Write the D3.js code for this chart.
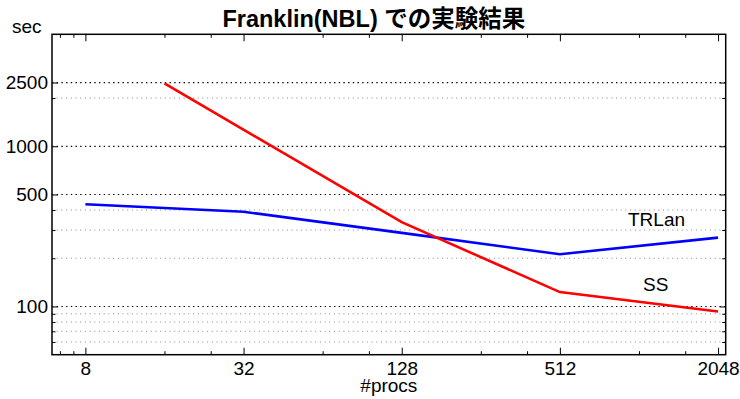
<!DOCTYPE html>
<html>
<head>
<meta charset="utf-8">
<script src="https://cdn.jsdelivr.net/npm/d3@7"></script>
<style>
body { margin: 0; background: #fff; }
text { font-family: "Liberation Sans", Arial, Helvetica, sans-serif; }
</style>
</head>
<body>
<script>
const WIDTH=740;
const HEIGHT=399;
const LEFT=52, RIGHT=725.7, TOP=34.3, BOTTOM=354.7;
const FONT=19;

// data
const trlanProcs = [8, 32, 128, 512, 2048];
const trlanSec = [435, 390, 288, 212, 269];
const ssProcs = [16, 128, 512, 2048];
const ssSec = [2470, 336, 123, 93];

const xTicks = [8, 32, 128, 512, 2048];
const xMinorTicks = [6.4, 7.2, 16, 24, 64, 96, 256, 384, 1024, 1536];
const yTicks = [100, 500, 1000, 2500];
const yMinorTicks = [60, 70, 80, 90, 200, 300, 400, 2000];

const svg = d3.select('body')
    .append('svg')
    .attr('width', WIDTH)
    .attr('height', HEIGHT);

const x = d3.scaleLog().base(2)
    .domain([5.97, 2190])
    .range([LEFT, RIGHT]);

const y = d3.scaleLog()
    .domain([50, 5000])
    .range([BOTTOM, TOP]);

// grid
svg.append('g')
    .selectAll('line')
    .data(yMinorTicks)
    .join('line')
    .attr('x1', LEFT).attr('x2', RIGHT)
    .attr('y1', d => y(d)).attr('y2', d => y(d))
    .attr('stroke', '#888')
    .attr('stroke-width', 1)
    .attr('stroke-dasharray', '1,3.7');

svg.append('g')
    .selectAll('line')
    .data(yTicks)
    .join('line')
    .attr('x1', LEFT).attr('x2', RIGHT)
    .attr('y1', d => y(d)).attr('y2', d => y(d))
    .attr('stroke', '#000')
    .attr('stroke-width', 1.2)
    .attr('stroke-dasharray', '1.4,3.3');

// axes (ticks inward)
function axisStyle(g) {
    g.select('.domain').remove();
    g.selectAll('text').attr('font-size', FONT).attr('fill', '#000')
        .attr('font-family', '"Liberation Sans", Arial, sans-serif');
    g.selectAll('line').attr('stroke', '#000');
}

svg.append('g')
    .attr('transform', `translate(0, ${BOTTOM})`)
    .call(d3.axisBottom(x).tickValues(xTicks).tickFormat(d3.format('d')).tickSize(-7).tickPadding(7))
    .call(axisStyle);
svg.append('g')
    .attr('transform', `translate(0, ${BOTTOM})`)
    .call(d3.axisBottom(x).tickValues(xMinorTicks).tickFormat('').tickSize(-3.5))
    .call(axisStyle);
svg.append('g')
    .attr('transform', `translate(0, ${TOP})`)
    .call(d3.axisTop(x).tickValues(xTicks).tickFormat('').tickSize(-7))
    .call(axisStyle);
svg.append('g')
    .attr('transform', `translate(0, ${TOP})`)
    .call(d3.axisTop(x).tickValues(xMinorTicks).tickFormat('').tickSize(-3.5))
    .call(axisStyle);

svg.append('g')
    .attr('transform', `translate(${LEFT}, 0)`)
    .call(d3.axisLeft(y).tickValues(yTicks).tickFormat(d3.format('d')).tickSize(-6).tickPadding(4))
    .call(axisStyle);
svg.append('g')
    .attr('transform', `translate(${LEFT}, 0)`)
    .call(d3.axisLeft(y).tickValues(yMinorTicks).tickFormat('').tickSize(-3.5))
    .call(axisStyle);
svg.append('g')
    .attr('transform', `translate(${RIGHT}, 0)`)
    .call(d3.axisRight(y).tickValues(yTicks).tickFormat('').tickSize(-6))
    .call(axisStyle);
svg.append('g')
    .attr('transform', `translate(${RIGHT}, 0)`)
    .call(d3.axisRight(y).tickValues(yMinorTicks).tickFormat('').tickSize(-3.5))
    .call(axisStyle);

// box
svg.append('rect')
    .attr('x', LEFT).attr('y', TOP)
    .attr('width', RIGHT-LEFT).attr('height', BOTTOM-TOP)
    .attr('fill', 'none')
    .attr('stroke', '#000')
    .attr('stroke-width', 1.5);

// lines
const line = d3.line()
    .x(d => x(d[0]))
    .y(d => y(d[1]));

svg.append('path')
    .attr('d', line(d3.zip(trlanProcs, trlanSec)))
    .attr('fill', 'none')
    .attr('stroke', '#0000ff')
    .attr('stroke-width', 2.6);

svg.append('path')
    .attr('d', line(d3.zip(ssProcs, ssSec)))
    .attr('fill', 'none')
    .attr('stroke', '#ff0000')
    .attr('stroke-width', 2.6);

// labels
svg.append('text')
    .attr('x', 628).attr('y', 226)
    .attr('font-size', FONT)
    .text('TRLan');
svg.append('text')
    .attr('x', 643).attr('y', 291)
    .attr('font-size', FONT)
    .text('SS');

svg.append('text')
    .attr('x', 12).attr('y', 33)
    .attr('font-size', FONT)
    .text('sec');

svg.append('text')
    .attr('x', (LEFT+RIGHT)/2).attr('y', 392)
    .attr('text-anchor', 'middle')
    .attr('font-size', FONT)
    .text('#procs');

svg.append('text')
    .attr('x', (LEFT+RIGHT)/2 - 15).attr('y', 27)
    .attr('text-anchor', 'middle')
    .attr('font-size', 23.5)
    .attr('font-weight', 'bold')
    .style('font-family', '"Liberation Sans", "Noto Sans CJK JP", sans-serif')
    .text('Franklin(NBL) での実験結果');
</script>
</body>
</html>
